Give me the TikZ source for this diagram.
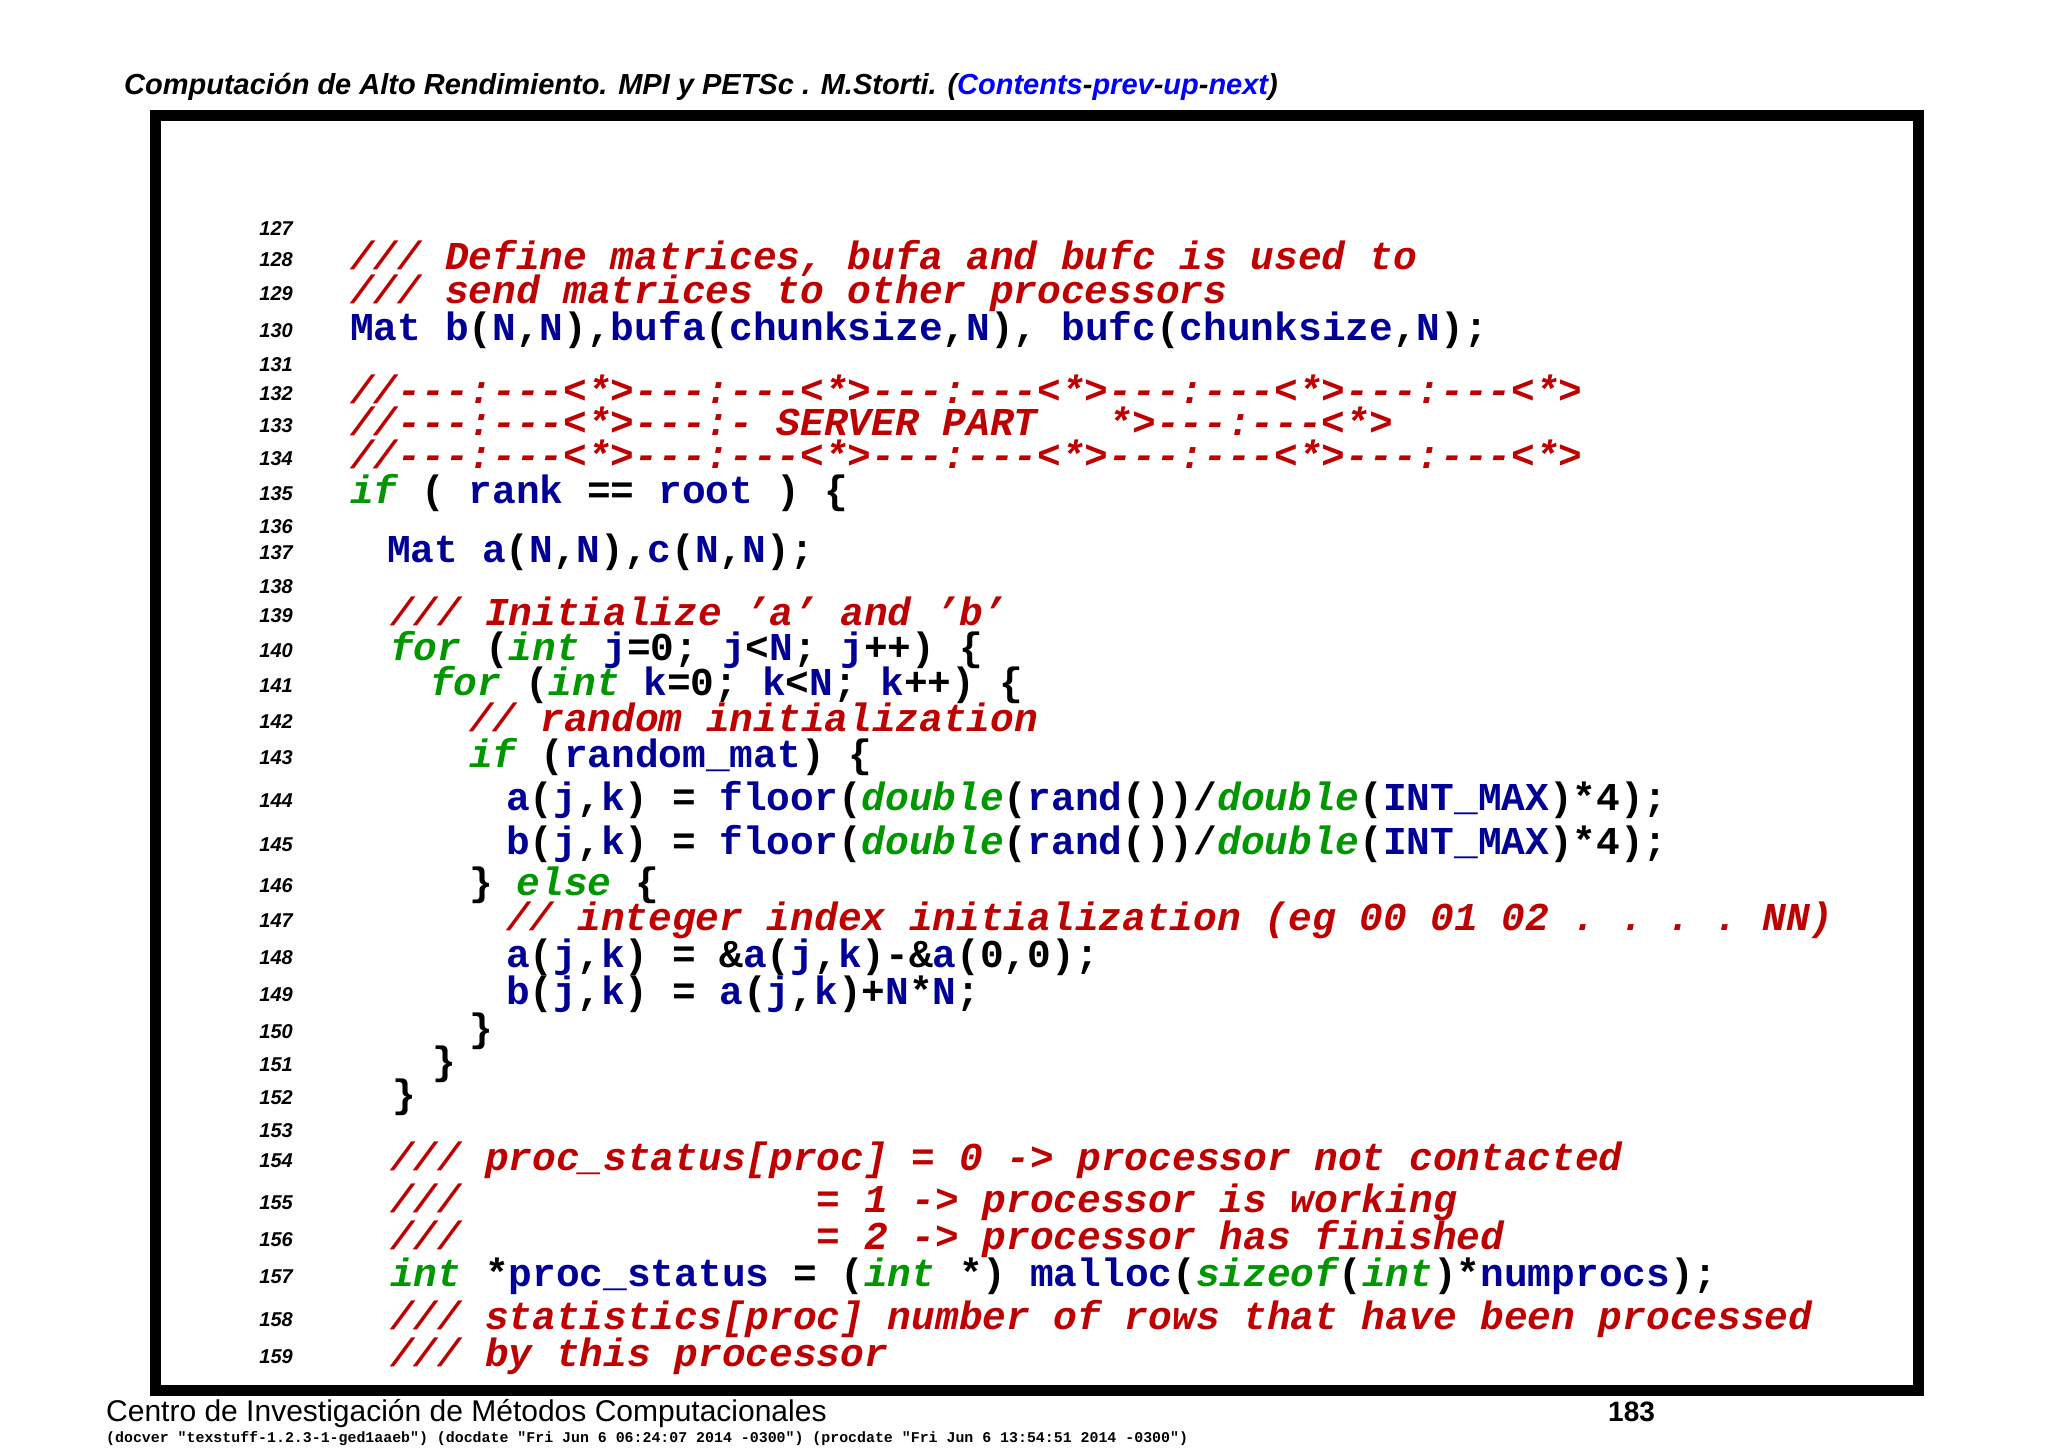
\documentclass[tikz,border=0pt]{standalone}
\usepackage{fontspec}
\setmainfont{Liberation Sans}
\setmonofont{Liberation Mono}
\definecolor{cmtred}{RGB}{190,0,0}
\definecolor{idblue}{RGB}{0,0,150}
\definecolor{kwgreen}{RGB}{0,150,0}
\definecolor{linkblue}{RGB}{0,0,255}
\newcommand\cm[1]{{\color{cmtred}\itshape #1}}
\newcommand\kw[1]{{\color{kwgreen}\itshape #1}}
\newcommand\id[1]{{\color{idblue}#1}}
\newcommand\gap[1]{\hspace*{\fpeval{0.6*#1}em}}
\tikzset{
  code/.style={anchor=base west,inner sep=0pt,font=\fontsize{39.5}{39.5}\ttfamily\bfseries},
  lnum/.style={anchor=base east,inner sep=0pt,font=\fontsize{20}{20}\rmfamily\bfseries\itshape},
}
\begin{document}
\begin{tikzpicture}[x=1pt,y=-1pt]
\useasboundingbox (0,0) rectangle (2048,1448);
% header and frame
\node (head) [anchor=base west,inner sep=0pt,font=\fontsize{29}{29}\rmfamily\bfseries\itshape] at (124,94)
  {Computación de Alto Rendimiento. MPI y PETSc . M.Storti. (\textcolor{linkblue}{Contents}-\textcolor{linkblue}{prev}-\textcolor{linkblue}{up}-\textcolor{linkblue}{next})};
\draw [line width=11pt] (155,115) rectangle (1918,1390);
% line numbers
\foreach \n/\y in {127/228.5,128/259,129/293,130/330,131/364.5,132/393.5,133/425,134/458,
  135/493,136/526,137/552,138/586.5,139/615.5,140/650,141/685.5,142/721,143/757,144/800.5,
  145/844,146/885,147/920.5,148/957.5,149/994.5,150/1031.5,151/1064.5,152/1097.5,153/1130.5,
  154/1160,155/1202,156/1239,157/1276,158/1319.5,159/1356.5}
  \node (n\n) [lnum] at (293,\y+7) {\n};
% code lines
\node (c128) [code] at (350,269) {\cm{/// Define matrices, bufa and bufc is used to}};
\node (c129) [code] at (350,303) {\cm{/// send matrices to other processors}};
\node (c130) [code] at (350,340) {\id{Mat b}(\id{N},\id{N}),\id{bufa}(\id{chunksize},\id{N}), \id{bufc}(\id{chunksize},\id{N});};
\node (c132) [code] at (350,403.5) {\cm{//---:---<*>---:---<*>---:---<*>---:---<*>---:---<*>}};
\node (c133) [code] at (350,435) {\cm{//---:---<*>---:- SERVER PART\gap{3}*>---:---<*>}};
\node (c134) [code] at (350,468) {\cm{//---:---<*>---:---<*>---:---<*>---:---<*>---:---<*>}};
\node (c135) [code] at (350,503) {\kw{if} ( \id{rank} == \id{root} ) \{};
\node (c137) [code] at (387,562) {\id{Mat a}(\id{N},\id{N}),\id{c}(\id{N},\id{N});};
\node (c139) [code] at (390,625.5) {\cm{/// Initialize ’a’ and ’b’}};
\node (c140) [code] at (390,660) {\kw{for} (\kw{int} \id{j}=0; \id{j}<\id{N}; \id{j}++) \{};
\node (c141) [code] at (430,695.5) {\kw{for} (\kw{int} \id{k}=0; \id{k}<\id{N}; \id{k}++) \{};
\node (c142) [code] at (469,731) {\cm{// random initialization}};
\node (c143) [code] at (469,767) {\kw{if} (\id{random\_mat}) \{};
\node (c144) [code] at (506,810.5) {\id{a}(\id{j},\id{k}) = \id{floor}(\kw{double}(\id{rand}())/\kw{double}(\id{INT\_MAX})*4);};
\node (c145) [code] at (506,854) {\id{b}(\id{j},\id{k}) = \id{floor}(\kw{double}(\id{rand}())/\kw{double}(\id{INT\_MAX})*4);};
\node (c146) [code] at (469,895) {\} \kw{else} \{};
\node (c147) [code] at (506,930.5) {\cm{// integer index initialization (eg 00 01 02 . . . . NN)}};
\node (c148) [code] at (506,967.5) {\id{a}(\id{j},\id{k}) = \&\id{a}(\id{j},\id{k})-\&\id{a}(0,0);};
\node (c149) [code] at (506,1004.5) {\id{b}(\id{j},\id{k}) = \id{a}(\id{j},\id{k})+\id{N}*\id{N};};
\node (c150) [code] at (469,1041.5) {\}};
\node (c151) [code] at (432,1074.5) {\}};
\node (c152) [code] at (392,1107.5) {\}};
\node (c154) [code] at (390,1170) {\cm{/// proc\_status[proc] = 0 -> processor not contacted}};
\node (c155) [code] at (390,1212) {\cm{///\gap{15}= 1 -> processor is working}};
\node (c156) [code] at (390,1249) {\cm{///\gap{15}= 2 -> processor has finished}};
\node (c157) [code] at (390,1286) {\kw{int} *\id{proc\_status} = (\kw{int} *) \id{malloc}(\kw{sizeof}(\kw{int})*\id{numprocs});};
\node (c158) [code] at (390,1329.5) {\cm{/// statistics[proc] number of rows that have been processed}};
\node (c159) [code] at (390,1366.5) {\cm{/// by this processor}};
% footer
\node (foot) [anchor=base west,inner sep=0pt,font=\fontsize{30}{30}\rmfamily] at (106,1421)
  {Centro de Investigación de Métodos Computacionales};
\node (page) [anchor=base west,inner sep=0pt,font=\fontsize{28}{28}\rmfamily\bfseries] at (1608,1421) {183};
\node (stamp) [anchor=base west,inner sep=0pt,font=\fontsize{14.9}{14.9}\ttfamily\bfseries] at (106,1442)
  {(docver "texstuff-1.2.3-1-ged1aaeb") (docdate "Fri Jun 6 06:24:07 2014 -0300") (procdate "Fri Jun 6 13:54:51 2014 -0300")};
\end{tikzpicture}
\end{document}
